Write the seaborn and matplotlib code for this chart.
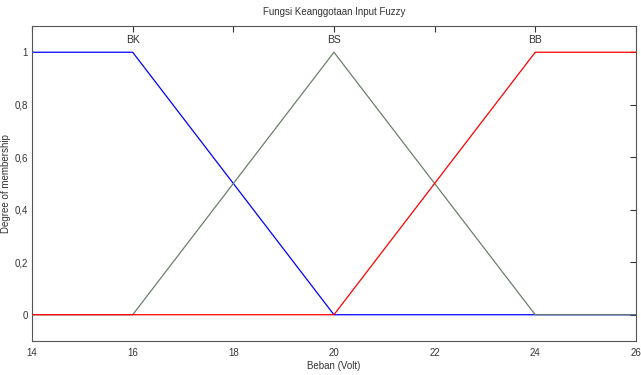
import matplotlib
matplotlib.use("Agg")
import matplotlib.pyplot as plt
import seaborn as sns
import pandas as pd

# Data
x_points = [14, 16, 20, 24, 26]
bk = [1, 1, 0, 0, 0]
bs = [0, 0, 1, 0, 0]
bb = [0, 0, 0, 1, 1]
mf_names = ["BK", "BS", "BB"]
mf_peaks = [16, 20, 24]
x_ticks = [14, 16, 18, 20, 22, 24, 26]
y_ticks = [0, 0.2, 0.4, 0.6, 0.8, 1]
y_tick_labels = ["0", "0,2", "0,4", "0,6", "0,8", "1"]

sns.set_style("white")
plt.rcParams['font.family'] = ['Liberation Sans Narrow', 'Liberation Sans', 'DejaVu Sans']

fig = plt.figure(figsize=(6.41, 3.75), dpi=100)
ax = fig.add_axes([0.050, 0.0907, 0.942, 0.840])

colors = ["#0000ff", "#6a806a", "#ff0000"]
for vals, c in zip([bk, bs, bb], colors):
    df = pd.DataFrame({"x": x_points, "y": vals})
    sns.lineplot(data=df, x="x", y="y", ax=ax, color=c, linewidth=0.9, estimator=None, sort=False)

for name, px in zip(mf_names, mf_peaks):
    ax.text(px, 1.046, name, ha="center", va="center", fontsize=7.5, color="#333333")

ax.set_xlim(14, 26)
ax.set_ylim(-0.1, 1.1)
ax.set_xticks(x_ticks)
ax.set_xticklabels([str(t) for t in x_ticks])
ax.set_yticks(y_ticks)
ax.set_yticklabels(y_tick_labels)
ax.tick_params(direction="in", length=4, labelsize=7, colors="#333333", top=True, right=True,
               width=0.8)
ax.tick_params(axis="x", pad=5)
ax.tick_params(axis="y", pad=3)
for s in ax.spines.values():
    s.set_color("#555555")
    s.set_linewidth(0.8)
ax.set_xlabel("Beban (Volt)", fontsize=7, color="#333333", labelpad=2)
ax.set_ylabel("Degree of membership", fontsize=7, color="#333333")
ax.yaxis.set_label_coords(-0.035, 0.5)
ax.set_title("Fungsi Keanggotaan Input Fuzzy", fontsize=7, color="#333333", pad=8)

fig.savefig("out.png", dpi=100)
